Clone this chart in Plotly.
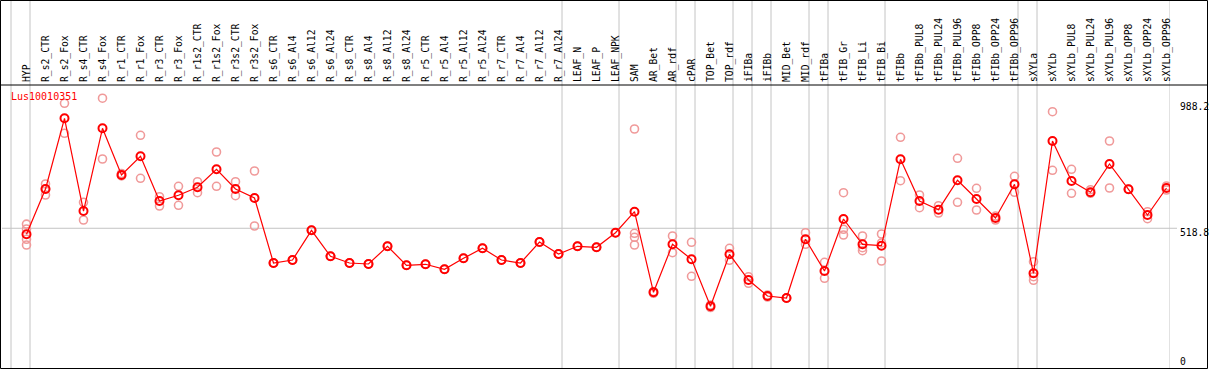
import plotly.graph_objects as go

gene = "Lus10010351"

categories = [
    "HYP", "R_s2_CTR", "R_s2_Fox", "R_s4_CTR", "R_s4_Fox", "R_r1_CTR", "R_r1_Fox",
    "R_r3_CTR", "R_r3_Fox", "R_r1s2_CTR", "R_r1s2_Fox", "R_r3s2_CTR", "R_r3s2_Fox",
    "R_s6_CTR", "R_s6_Al4", "R_s6_Al12", "R_s6_Al24", "R_s8_CTR", "R_s8_Al4",
    "R_s8_Al12", "R_s8_Al24", "R_r5_CTR", "R_r5_Al4", "R_r5_Al12", "R_r5_Al24",
    "R_r7_CTR", "R_r7_Al4", "R_r7_Al12", "R_r7_Al24", "LEAF_N", "LEAF_P", "LEAF_NPK",
    "SAM", "AR_Bet", "AR_rdf", "cPAR", "TOP_Bet", "TOP_rdf", "iFIBa", "iFIBb",
    "MID_Bet", "MID_rdf", "tFIBa", "tFIB_Gr", "tFIB_Li", "tFIB_Bi", "tFIBb",
    "tFIBb_PUL8", "tFIBb_PUL24", "tFIBb_PUL96", "tFIBb_OPP8", "tFIBb_OPP24",
    "tFIBb_OPP96", "sXYLa", "sXYLb", "sXYLb_PUL8", "sXYLb_PUL24", "sXYLb_PUL96",
    "sXYLb_OPP8", "sXYLb_OPP24", "sXYLb_OPP96",
]

means = [
    496.3, 665.5, 929.7, 583.3, 892.4, 717.9, 787.7, 620.7, 642.0, 671.9, 739.2, 665.5, 631.9,
    389.0, 400.2, 511.2, 414.1, 389.0, 385.3, 451.4, 380.4, 384.2, 365.5, 406.6, 443.9,
    400.2, 389.0, 467.5, 422.6, 451.4, 447.7, 502.2,
    580.7, 279.5, 458.9, 402.8, 227.2, 421.5, 325.5, 265.7, 258.2, 477.6, 359.1,
    553.4, 458.9, 453.7, 776.5, 620.7, 588.2, 698.1, 628.2, 557.2, 683.1,
    350.5, 844.9, 695.4, 653.2, 759.0, 664.4, 568.4, 669.3,
]

replicates = [
    [534.3, 516.1, 477.6, 456.3],
    [684.2, 665.5, 643.1],
    [985.8, 873.7],
    [615.8, 549.7],
    [1004.9, 777.7],
    [723.5, 714.2],
    [866.2, 705.5],
    [636.8, 602.0],
    [675.6, 604.6],
    [692.8, 651.7],
    [803.8, 675.6],
    [692.8, 640.5],
    [732.8, 527.3],
    [389.0, 389.0],
    [400.2, 400.2],
    [511.2, 511.2],
    [414.1, 414.1],
    [389.0, 389.0],
    [385.3, 385.3],
    [451.4, 451.4],
    [380.4, 380.4],
    [384.2, 384.2],
    [365.5, 365.5],
    [406.6, 406.6],
    [443.9, 443.9],
    [400.2, 400.2],
    [389.0, 389.0],
    [467.5, 467.5],
    [422.6, 422.6],
    [451.4, 451.4],
    [447.7, 447.7],
    [502.2, 502.2],
    [889.8, 500.0, 485.1, 456.3],
    [275.8, 282.5],
    [489.9, 427.5],
    [466.4, 339.3],
    [232.1, 222.7],
    [443.9, 399.1],
    [337.8, 313.2],
    [269.4, 262.0],
    [258.2, 258.2],
    [502.2, 458.9],
    [391.6, 331.8],
    [651.7, 514.9, 493.6],
    [489.9, 446.2, 435.0],
    [497.4, 464.0, 396.5],
    [858.8, 696.6],
    [643.1, 595.7],
    [603.1, 575.9],
    [780.3, 615.8],
    [668.2, 587.1],
    [564.6, 549.7],
    [713.0, 653.2],
    [393.9, 337.8, 324.4],
    [954.4, 735.4],
    [739.2, 649.5],
    [662.9, 649.5],
    [844.9, 669.3],
    [664.4, 664.4],
    [580.7, 554.6],
    [676.8, 661.8],
]

# last category index of each group (-1 = start)
group_ends = [-1, 0, 28, 31, 34, 35, 37, 38, 39, 41, 42, 45, 52, 53, 60]
y_ticks = [0, 518.8, 988.2]
y_ticktext = ["0", "518.8", "988.2"]

W, H = 1209, 370
L, R, T, B = 2, 39, 85, 2
plot_w = W - L - R
plot_h = H - T - B
step = 19.0
first_px = 26.5
x0 = -(first_px - L) / step
x_range = [x0, x0 + plot_w / step]
y_range = [-3.36, 1054.2]

RED = "#ff0000"
PINK = "#f09a9a"
GRAY = "#c4c4c4"
FONT = "DejaVu Sans Mono"

xs = list(range(len(categories)))

rep_x, rep_y = [], []
for i, reps in enumerate(replicates):
    for v in reps:
        rep_x.append(i)
        rep_y.append(v)

fig = go.Figure()
fig.add_trace(go.Scatter(
    x=rep_x, y=rep_y, mode="markers",
    marker=dict(symbol="circle-open", size=8, color=PINK, line=dict(width=1.6, color=PINK)),
    hoverinfo="skip", showlegend=False,
))
fig.add_trace(go.Scatter(
    x=xs, y=means, mode="lines+markers",
    line=dict(color=RED, width=1.2),
    marker=dict(symbol="circle-open", size=8, color=RED, line=dict(width=2, color=RED)),
    showlegend=False,
))

shapes = []
top_paper = 1 + T / plot_h
for e in group_ends:
    xv = e + 3.5 / step
    shapes.append(dict(type="line", xref="x", yref="paper", x0=xv, x1=xv, y0=0, y1=top_paper,
                       line=dict(color=GRAY, width=1), layer="below"))
# 518.8 reference line
shapes.append(dict(type="line", xref="paper", yref="y", x0=0, x1=(1177 - L) / plot_w,
                   y0=y_ticks[1], y1=y_ticks[1], line=dict(color=GRAY, width=1), layer="below"))
# header separator
shapes.append(dict(type="line", xref="paper", yref="paper", x0=(1 - L) / plot_w, x1=(1207.5 - L) / plot_w,
                   y0=1, y1=1, line=dict(color="black", width=1)))
# outer frame
shapes.append(dict(type="rect", xref="paper", yref="paper",
                   x0=(0.5 - L) / plot_w, x1=(1207.5 - L) / plot_w,
                   y0=(-0.5) / plot_h, y1=1 + (T - 0.5) / plot_h,
                   line=dict(color="black", width=1), fillcolor="rgba(0,0,0,0)"))

annotations = [
    dict(text=gene, xref="paper", yref="paper", x=(9 - L) / plot_w, y=1 - (97 - T) / plot_h,
         xanchor="left", yanchor="middle", showarrow=False, font=dict(family=FONT, size=10, color=RED)),
]
label_shift = {0: 5.5, 518.8: -4.2, 988.2: -4.0}
for v, t in zip(y_ticks, y_ticktext):
    annotations.append(dict(text=t, xref="paper", yref="y", x=(1178 - L) / plot_w, y=v,
                            xanchor="left", yanchor="middle", yshift=label_shift[v],
                            showarrow=False, font=dict(family=FONT, size=9.7, color="black")))

fig.update_layout(
    width=W, height=H,
    margin=dict(l=L, r=R, t=T, b=B, pad=0, autoexpand=False),
    paper_bgcolor="white", plot_bgcolor="white",
    xaxis=dict(range=x_range, side="top", tickmode="array", tickvals=xs, ticktext=categories,
               tickangle=-90, ticks="", ticklen=0, ticklabelstandoff=2,
               showgrid=False, zeroline=False, showline=False, automargin=False,
               tickfont=dict(family=FONT, size=9.7, color="black"), fixedrange=True),
    yaxis=dict(range=y_range, showticklabels=False, ticks="", tickvals=y_ticks, showgrid=False,
               zeroline=False, showline=False, automargin=False, fixedrange=True),
    shapes=shapes, annotations=annotations,
)

fig.write_html(
    "out.html",
    config={"displayModeBar": False},
    post_script="document.body.style.margin='0';document.body.style.overflow='hidden';",
)
